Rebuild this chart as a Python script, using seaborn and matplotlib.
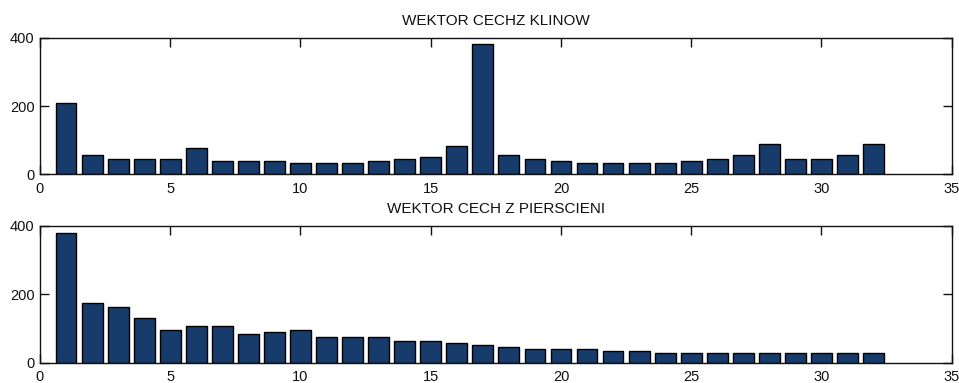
import matplotlib
matplotlib.use("Agg")
import matplotlib.pyplot as plt
import seaborn as sns
import pandas as pd

# Feature indices and values of the two feature vectors
indices = list(range(1, 33))
wedge_values = [209, 57, 45, 45, 45, 79, 39, 39, 39, 34, 34, 34, 39, 45, 52, 84,
                383, 57, 45, 39, 34, 34, 34, 34, 39, 45, 57, 90, 45, 45, 57, 90]
ring_values = [378, 175, 164, 131, 97, 107, 107, 85, 91, 97, 75, 75, 75, 63, 63, 58,
               52, 46, 40, 40, 40, 34, 34, 28, 28, 28, 28, 28, 28, 28, 28, 28]
titles = ["WEKTOR CECHZ KLINOW", "WEKTOR CECH Z PIERSCIENI"]
x_ticks = [0, 5, 10, 15, 20, 25, 30, 35]
y_ticks = [0, 200, 400]

sns.set_theme(style="white")
plt.rcParams["font.family"] = ["Liberation Sans", "DejaVu Sans"]

bar_color = "#173b6b"

fig = plt.figure(figsize=(9.59, 3.83), dpi=100)
ax_top = fig.add_axes([0.0417, 0.5444, 0.9507, 0.3564])
ax_bot = fig.add_axes([0.0417, 0.0530, 0.9507, 0.3570])

for ax, vals, title in zip([ax_top, ax_bot], [wedge_values, ring_values], titles):
    df = pd.DataFrame({"idx": indices, "val": vals})
    sns.barplot(data=df, x="idx", y="val", native_scale=True, color=bar_color,
                saturation=1, edgecolor="black", linewidth=1.0, width=0.8, ax=ax)
    ax.set_xlim(0, 35)
    ax.set_ylim(0, 400)
    ax.set_xticks(x_ticks)
    ax.set_yticks(y_ticks)
    ax.set_xlabel("")
    ax.set_ylabel("")
    ax.set_title(title, fontsize=11, color="#111111", pad=9)
    ax.tick_params(direction="in", length=6.5, width=1, colors="#111111",
                   top=True, right=True, bottom=True, left=True,
                   labelsize=10.5)
    ax.tick_params(axis="x", pad=5.5)
    ax.tick_params(axis="y", pad=4)
    for s in ax.spines.values():
        s.set_visible(True)
        s.set_color("#111111")
        s.set_linewidth(1.0)
    ax.set_facecolor("white")

fig.savefig("out.png", dpi=100, facecolor="white")
